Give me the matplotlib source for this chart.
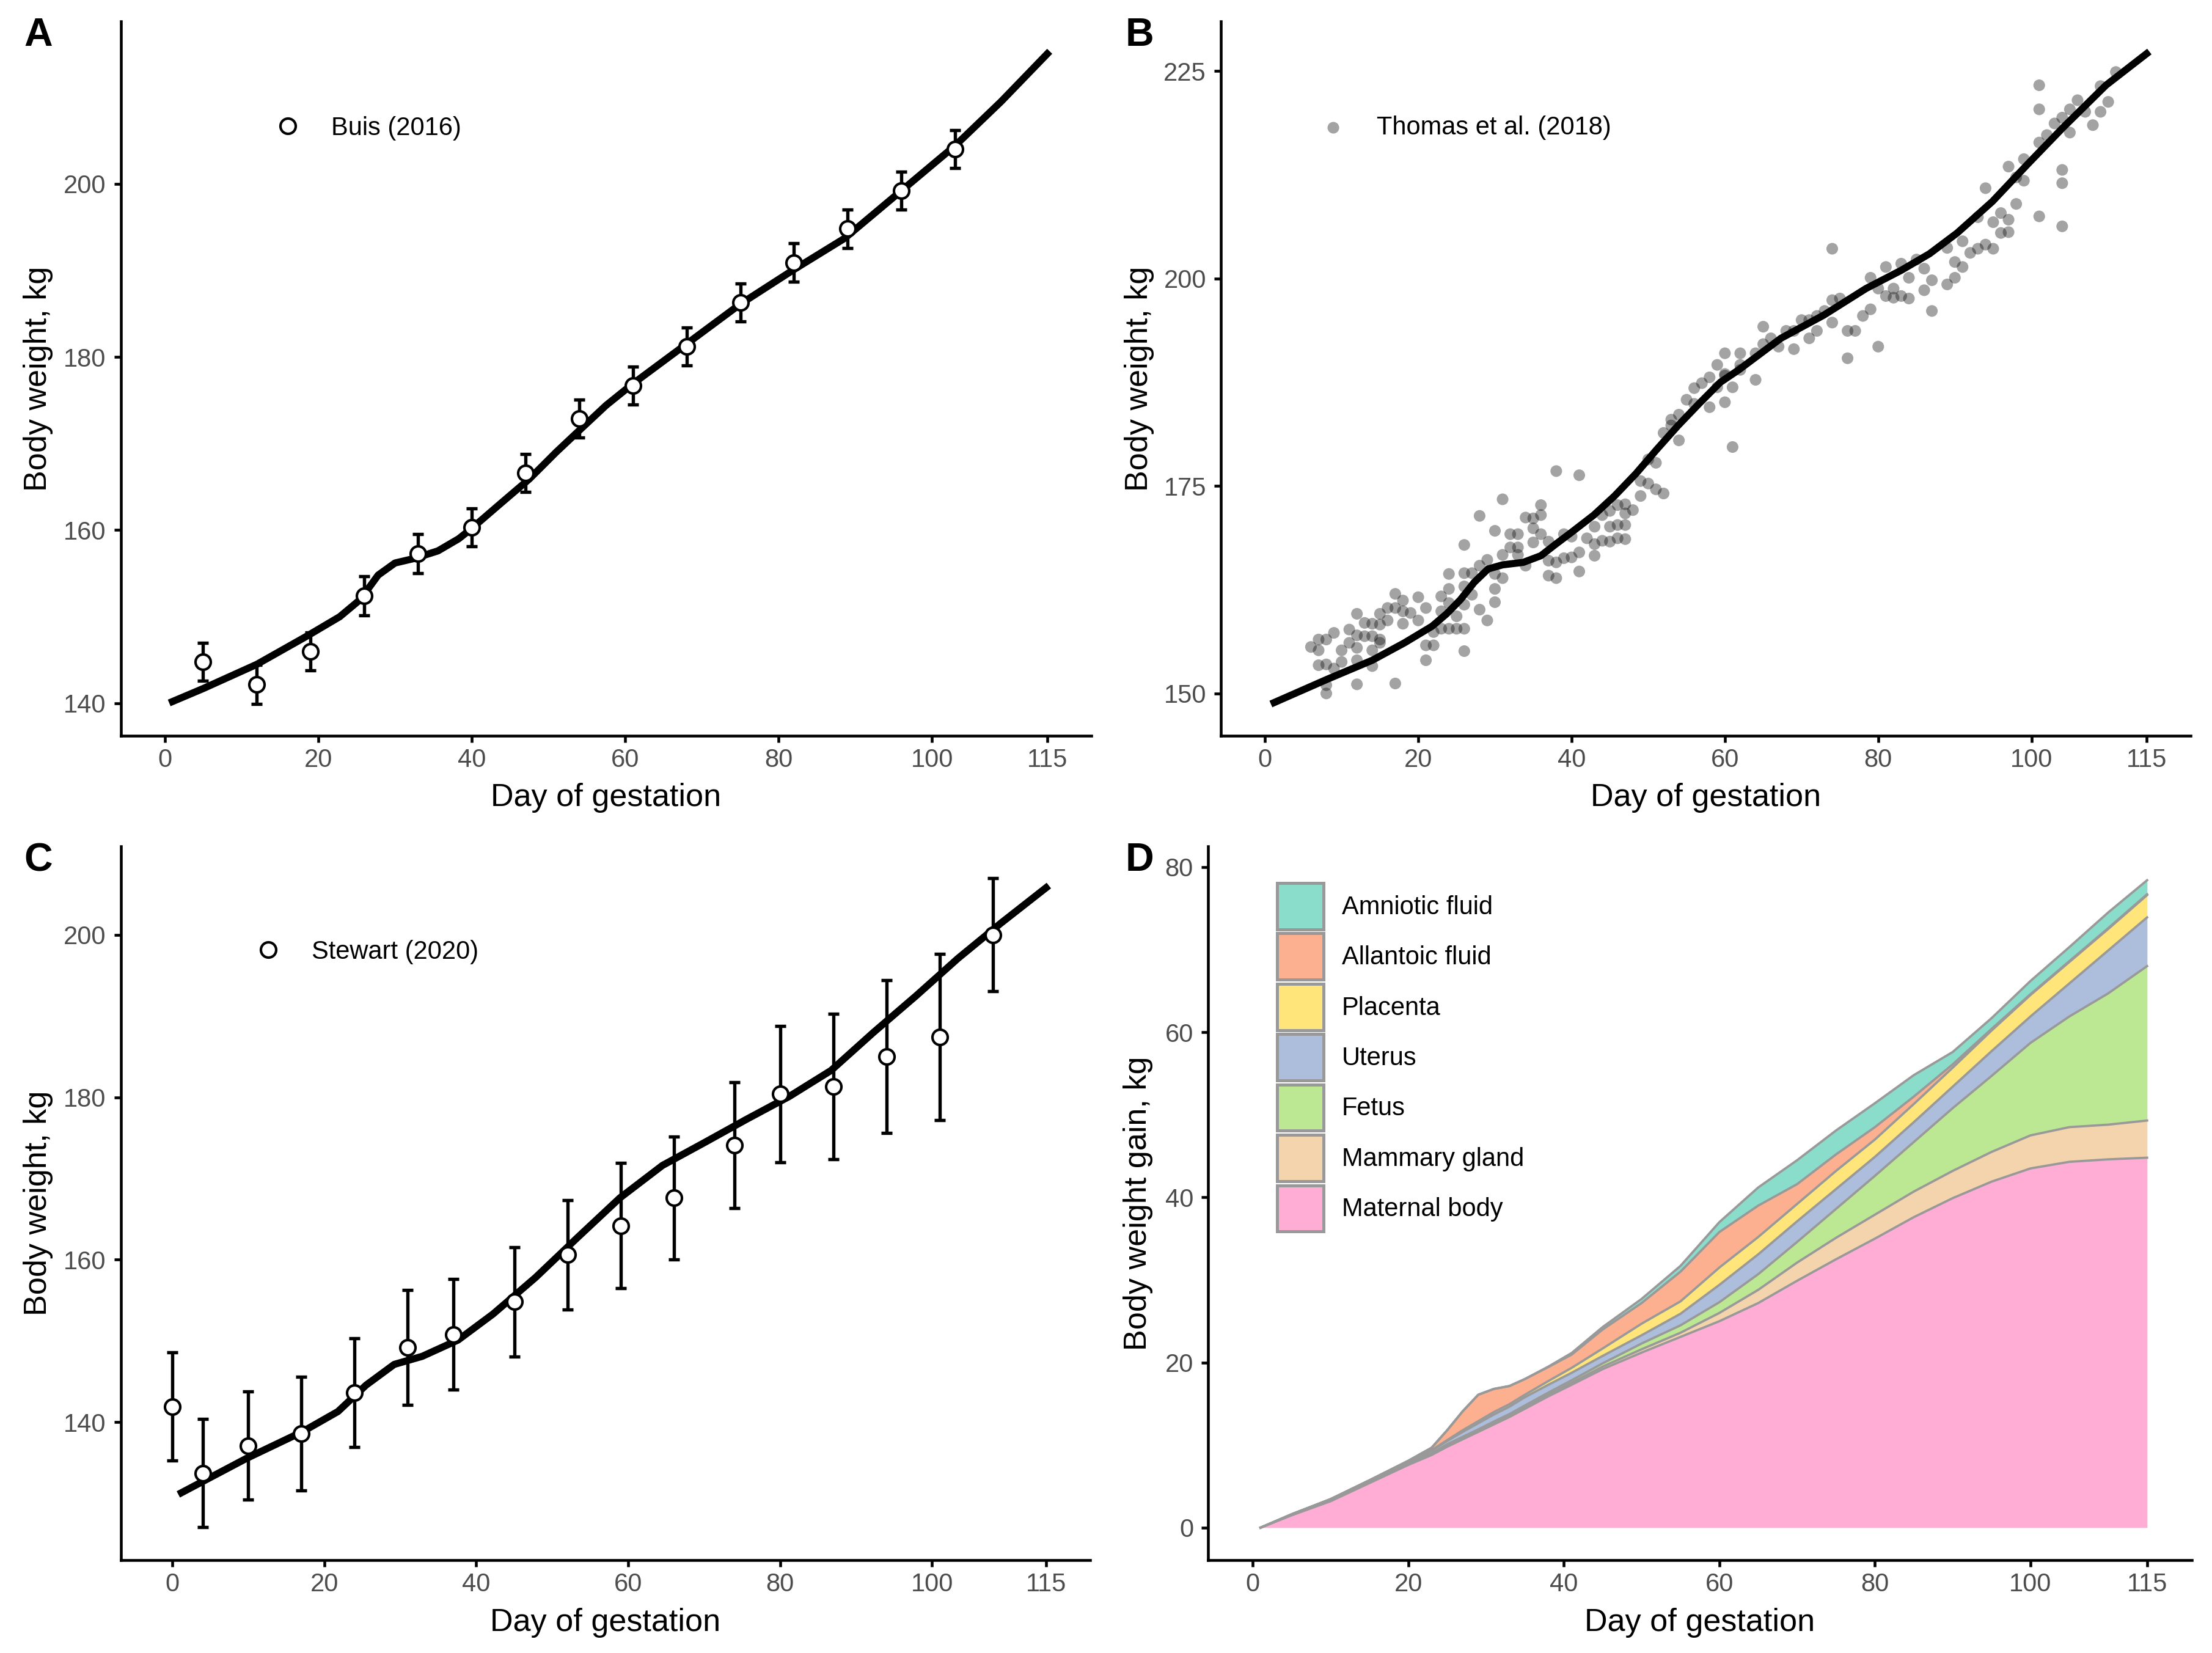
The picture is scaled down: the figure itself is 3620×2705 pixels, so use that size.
import numpy as np
import matplotlib
matplotlib.use("Agg")
import matplotlib.pyplot as plt
from matplotlib.patches import Patch

plt.rcParams['font.family'] = ['Liberation Sans', 'DejaVu Sans']

# ---- panel A: Buis (2016) ----
a_day = [5, 12, 19, 26, 33, 40, 47, 54, 61, 68, 75, 82, 89, 96, 103]
a_wt = [144.8, 142.2, 146.0, 152.4, 157.3, 160.3, 166.6, 172.9, 176.7, 181.2, 186.3, 190.9, 194.8, 199.2, 204.0]
a_se = [2.2, 2.25, 2.2, 2.25, 2.25, 2.2, 2.2, 2.2, 2.2, 2.2, 2.2, 2.2, 2.2, 2.2, 2.2]
a_fit_day = [1, 5, 12, 18.6, 22.8, 25.5, 27.8, 30, 32.4, 35.6, 38.3, 40, 43.8, 47.5, 51,
             54, 57.5, 61, 64.5, 68, 75, 82, 88.6, 96, 103, 109, 115]
a_fit_wt = [140.2, 141.7, 144.5, 147.8, 150.0, 152.0, 154.8, 156.2, 156.7, 157.6, 159.0, 160.2, 163.1,
            165.9, 169.0, 171.5, 174.4, 176.9, 179.2, 181.5, 186.1, 190.1, 193.7, 199.2, 204.4, 209.5, 215.0]

# ---- panel B: Thomas et al. (2018) ----
b_day = [6, 7, 7, 8, 9, 7, 8, 9, 10, 10, 11, 11, 12, 12, 12, 12, 12, 8, 8, 13, 13, 14, 14, 14, 14,
         15, 15, 15, 15, 16, 16, 17, 17, 17, 18, 18, 18, 19, 20, 20, 21, 21, 21, 22, 22, 23, 23, 23,
         24, 24, 24, 24, 25, 25, 26, 26, 26, 26, 26, 26, 27, 27, 28, 28, 28, 29, 29, 30, 30, 30, 30,
         31, 31, 31, 32, 32, 33, 33, 33, 34, 34, 35, 35, 35, 36, 36, 36, 37, 37, 37, 38, 38, 38, 39,
         39, 40, 40, 41, 41, 41, 42, 43, 43, 43, 44, 44, 45, 45, 45, 46, 46, 46, 47, 47, 47, 47, 48,
         49, 49, 50, 50, 51, 51, 52, 52, 53, 53, 54, 54, 55, 56, 56, 57, 58, 58, 59, 60, 60, 61, 61,
         62, 64, 59, 60, 60, 62, 62, 64, 65, 65, 66, 67, 68, 69, 69, 70, 71, 71, 72, 72, 73, 74, 74,
         74, 75, 76, 76, 77, 78, 79, 79, 80, 80, 81, 81, 82, 82, 83, 83, 84, 84, 85, 86, 86, 87, 87,
         89, 89, 90, 90, 91, 91, 92, 93, 93, 94, 94, 95, 95, 96, 96, 97, 97, 97, 98, 98, 99, 99, 101,
         101, 101, 101, 102, 103, 104, 104, 104, 104, 105, 105, 106, 107, 108, 109, 109, 110, 111]
b_wt = [155.6, 156.5, 155.2, 156.5, 157.3, 153.4, 153.5, 153.0, 153.8, 155.2, 157.7, 156.1, 159.6,
        157.0, 155.5, 154.0, 151.1, 150.0, 151.0, 158.5, 156.9, 158.4, 156.9, 155.2, 153.3, 159.6,
        158.3, 156.5, 156.1, 160.3, 158.8, 162.0, 160.3, 151.2, 161.2, 159.9, 158.4, 159.7, 161.6,
        158.8, 160.3, 155.8, 154.0, 157.4, 155.8, 161.7, 159.9, 157.8, 164.4, 162.6, 160.9, 157.8,
        159.3, 157.8, 167.9, 164.5, 162.9, 160.7, 157.8, 155.1, 164.5, 161.9, 171.4, 165.4, 160.1,
        166.1, 158.8, 169.6, 164.4, 162.6, 161.0, 173.4, 166.7, 163.9, 169.2, 167.6, 169.2, 167.6,
        166.7, 171.2, 165.4, 171.1, 169.9, 168.2, 172.7, 171.5, 169.2, 168.3, 166.0, 164.2, 176.8,
        165.8, 163.9, 169.2, 166.3, 168.9, 166.4, 176.3, 167.0, 164.7, 168.7, 170.1, 168.0, 166.6,
        171.5, 168.4, 172.0, 170.1, 168.3, 172.7, 170.3, 168.7, 172.8, 171.7, 170.3, 168.6, 172.1,
        173.8, 175.6, 178.2, 175.3, 177.8, 174.6, 174.1, 181.4, 183.0, 182.3, 183.6, 180.5, 185.4,
        186.8, 184.9, 187.4, 188.1, 184.5, 186.9, 188.5, 185.1, 179.7, 186.9, 189.0, 187.8, 189.6,
        191.0, 188.3, 191.0, 189.6, 191.0, 194.2, 192.1, 192.8, 191.8, 193.7, 191.5, 193.7, 195.0,
        192.8, 195.0, 195.5, 193.7, 196.1, 194.7, 203.6, 197.4, 197.6, 193.7, 190.4, 193.7, 195.5,
        200.1, 196.3, 191.8, 198.8, 201.4, 197.9, 198.8, 197.7, 201.8, 197.9, 200.1, 197.6, 202.3,
        201.2, 198.6, 199.8, 196.1, 203.7, 199.3, 202.0, 200.1, 204.5, 201.4, 203.1, 207.4, 203.6,
        210.9, 204.1, 206.8, 203.6, 207.9, 205.5, 213.5, 207.1, 205.6, 209.0, 212.2, 214.4, 211.8,
        223.3, 220.4, 216.4, 207.5, 217.3, 218.7, 219.4, 213.1, 211.5, 206.3, 220.4, 217.6, 221.5,
        220.1, 218.5, 223.2, 220.1, 221.3, 224.9]
b_fit_day = [1.2, 8.1, 14, 18.2, 21.8, 23.7, 25.5, 27.3, 29.1, 31, 33.7, 36, 37.8, 40.1, 42.9, 45.6,
             48.4, 51.1, 53.9, 56.6, 59.4, 61.8, 67.3, 72.9, 78.4, 83, 86.7, 90.3, 94.9, 99.5, 104.1,
             109.7, 115]
b_fit_wt = [148.9, 151.7, 154.0, 156.1, 158.1, 159.6, 161.3, 163.4, 165.0, 165.5, 165.8, 166.6, 167.9,
            169.5, 171.5, 173.8, 176.5, 179.4, 182.3, 184.9, 187.5, 189.0, 192.8, 195.6, 198.8, 201.0,
            203.0, 205.5, 209.3, 213.8, 218.2, 223.3, 227.1]

# ---- panel C: Stewart (2020) ----
c_day = [0, 4, 10, 17, 24, 31, 37, 45, 52, 59, 66, 74, 80, 87, 94, 101, 108]
c_wt = [141.9, 133.7, 137.1, 138.6, 143.6, 149.2, 150.8, 154.8, 160.6, 164.2, 167.6, 174.1, 180.4,
        181.3, 185.0, 187.4, 200.0]
c_se = [6.65, 6.65, 6.65, 7.0, 6.7, 7.1, 6.8, 6.75, 6.75, 7.7, 7.55, 7.75, 8.4, 8.95, 9.4, 10.25, 6.95]
c_fit_day = [1.2, 9.7, 17.2, 21.8, 25.5, 29.2, 32.9, 37.6, 42.2, 47.8, 53.3, 58.9, 64.5, 70, 75.6,
             81.2, 86.7, 92.3, 97.9, 103.4, 109, 115]
c_fit_wt = [131.3, 135.5, 138.85, 141.3, 144.55, 147.1, 148.1, 150.1, 153.3, 157.8, 162.7, 167.6,
            171.6, 174.4, 177.3, 180.1, 183.3, 188.0, 192.5, 197.1, 201.4, 205.8]

# ---- panel D: composition of body weight gain ----
d_day = [1, 5, 10, 15, 20, 23, 25, 27, 29, 31, 33, 35, 38, 41, 45, 50, 55, 60, 65, 70, 75, 80, 85,
         90, 95, 100, 105, 110, 115]
maternal = [0, 1.5, 3.2, 5.4, 7.6, 8.8, 9.8, 10.7, 11.6, 12.5, 13.4, 14.4, 15.9, 17.3, 19.2, 21.2,
            23.1, 25.0, 27.2, 29.9, 32.5, 35.0, 37.6, 39.9, 41.9, 43.5, 44.3, 44.6, 44.8]
mammary = [0, 0.05, 0.1, 0.1, 0.15, 0.15, 0.2, 0.2, 0.2, 0.2, 0.2, 0.2, 0.2, 0.25, 0.3, 0.4, 0.5,
           1.0, 1.6, 2.2, 2.6, 2.9, 3.1, 3.3, 3.6, 4.0, 4.2, 4.2, 4.5]
fetus = [0, 0.02, 0.03, 0.05, 0.05, 0.05, 0.1, 0.1, 0.1, 0.15, 0.15, 0.2, 0.25, 0.3, 0.4, 0.7, 0.9,
         1.3, 1.9, 2.5, 3.5, 4.7, 6.0, 7.6, 9.2, 11.2, 13.4, 15.9, 18.7]
uterus = [0, 0.05, 0.1, 0.15, 0.2, 0.3, 0.4, 0.6, 0.75, 0.85, 0.9, 1.0, 0.95, 0.9, 0.9, 1.0, 1.4,
          2.1, 2.4, 2.5, 2.4, 2.3, 2.4, 2.6, 3.0, 3.2, 4.0, 5.2, 5.9]
placenta = [0, 0, 0.02, 0.03, 0.05, 0.08, 0.1, 0.2, 0.25, 0.3, 0.3, 0.3, 0.45, 0.6, 0.9, 1.4, 1.5,
            2.1, 2.1, 2.1, 2.2, 2.1, 2.2, 2.3, 2.5, 2.6, 2.6, 2.6, 2.7]
allantoic = [0, 0, 0, 0, 0.05, 0.3, 1.2, 2.3, 3.2, 2.8, 2.2, 1.9, 1.7, 1.6, 2.3, 2.5, 3.6, 4.3, 3.8,
             2.4, 2.0, 1.5, 0.9, 0.4, 0.2, 0.1, 0.1, 0.1, 0.1]
amniotic = [0, 0, 0, 0, 0, 0, 0, 0, 0, 0, 0, 0, 0.05, 0.2, 0.3, 0.5, 0.7, 1.2, 2.2, 2.9, 2.9, 2.9,
            2.6, 1.5, 1.3, 1.6, 1.7, 1.9, 1.7]
d_names = ['Maternal body', 'Mammary gland', 'Fetus', 'Uterus', 'Placenta', 'Allantoic fluid',
           'Amniotic fluid']
d_colors = ['#FFADD5', '#F4D4AC', '#BCE894', '#ACBEDC', '#FFE57A', '#FCB08F', '#8ADDCA']

x_ticks = [0, 20, 40, 60, 80, 100, 115]
W, H = 3620, 2705
fig = plt.figure(figsize=(W / 300, H / 300), dpi=300)


def px_axes(l, r, t, b):
    return fig.add_axes([l / W, 1 - b / H, (r - l) / W, (b - t) / H])


def style(ax, ylab, ylab_x, xlab_y):
    for s in ['top', 'right']:
        ax.spines[s].set_visible(False)
    for s in ['left', 'bottom']:
        ax.spines[s].set_linewidth(1.1)
    ax.tick_params(length=11.5 * 72 / 300, width=1.1, labelsize=10, labelcolor='#4D4D4D')
    ax.tick_params(axis='x', pad=2)
    ax.tick_params(axis='y', pad=3)
    ax.set_xticks(x_ticks)
    ax.set_xlabel('Day of gestation', fontsize=12.5)
    ax.set_ylabel(ylab, fontsize=12.5)
    ax.yaxis.label.set_va('center')
    ax.xaxis.label.set_va('center')
    ax.yaxis.set_label_coords(ylab_x, 0.5)
    ax.xaxis.set_label_coords(0.5, xlab_y)


open_marker = dict(marker='o', ls='none', ms=6, mfc='white', mec='black', mew=1.0)

# A
ax = px_axes(197.5, 1786, 35, 1204)
ax.errorbar(a_day, a_wt, yerr=a_se, fmt='none', ecolor='black', elinewidth=1.3, capsize=2.2, capthick=1.3)
ax.plot(a_fit_day, a_fit_wt, color='black', lw=2.8)
ax.plot(a_day, a_wt, label='Buis (2016)', zorder=5, **open_marker)
ax.set_xlim(-5.75, 120.75)
ax.set_ylim(136.25, 218.75)
ax.set_yticks([140, 160, 180, 200])
style(ax, 'Body weight, kg', -0.0853, -0.087)
ax.legend(loc='center left', bbox_to_anchor=(0.1528, 0.8503), frameon=False, fontsize=10,
          handlelength=1.5, handletextpad=0.95, borderpad=0, borderaxespad=0)

# B
ax = px_axes(1998, 3585, 35, 1204)
ax.scatter(b_day, b_wt, s=21, color='black', alpha=0.36, edgecolors='none', label='Thomas et al. (2018)')
ax.plot(b_fit_day, b_fit_wt, color='black', lw=2.8)
ax.set_xlim(-5.75, 120.75)
ax.set_ylim(144.9, 231.0)
ax.set_yticks([150, 175, 200, 225])
style(ax, 'Body weight, kg', -0.0841, -0.087)
ax.legend(loc='center left', bbox_to_anchor=(0.0963, 0.8512), frameon=False, fontsize=10,
          handlelength=1.5, handletextpad=0.95, borderpad=0, borderaxespad=0, scatterpoints=1)

# C
ax = px_axes(197.5, 1784, 1385, 2553)
ax.errorbar(c_day, c_wt, yerr=c_se, fmt='none', ecolor='black', elinewidth=1.3, capsize=2.2, capthick=1.3)
ax.plot(c_fit_day, c_fit_wt, color='black', lw=2.8)
ax.plot(c_day, c_wt, label='Stewart (2020)', zorder=5, **open_marker)
ax.set_xlim(-6.8, 120.8)
ax.set_ylim(123.0, 210.9)
ax.set_yticks([140, 160, 180, 200])
style(ax, 'Body weight, kg', -0.0854, -0.088)
ax.legend(loc='center left', bbox_to_anchor=(0.1325, 0.8521), frameon=False, fontsize=10,
          handlelength=1.5, handletextpad=0.95, borderpad=0, borderaxespad=0)

# D
ax = px_axes(1977, 3587, 1385, 2553)
layers = np.vstack([maternal, mammary, fetus, uterus, placenta, allantoic, amniotic])
tops = np.cumsum(layers, axis=0)
bottom = np.zeros(len(d_day))
for top, col in zip(tops, d_colors):
    ax.fill_between(d_day, bottom, top, color=col, lw=0)
    bottom = top
for top in tops:
    ax.plot(d_day, top, color='#999999', lw=0.9)
ax.set_xlim(-5.75, 120.75)
ax.set_ylim(-3.93, 82.5)
ax.set_yticks([0, 20, 40, 60, 80])
style(ax, 'Body weight gain, kg', -0.0714, -0.088)
handles = [Patch(facecolor=c, edgecolor='#999999', lw=1.2, label=n)
           for n, c in zip(d_names[::-1], d_colors[::-1])]
ax.legend(handles=handles, loc='upper left', bbox_to_anchor=(0.0702, 0.9486), frameon=False,
          fontsize=10, handlelength=1.82, handleheight=2.42, labelspacing=0.16, handletextpad=0.72,
          borderpad=0, borderaxespad=0)

# panel letters
for letter, x, y in [('A', 63, 58), ('B', 1865, 58), ('C', 63, 1408), ('D', 1865, 1408)]:
    fig.text(x / W, 1 - y / H, letter, fontsize=15.5, fontweight='bold', ha='center', va='center')

fig.savefig('out.png', dpi=300)
